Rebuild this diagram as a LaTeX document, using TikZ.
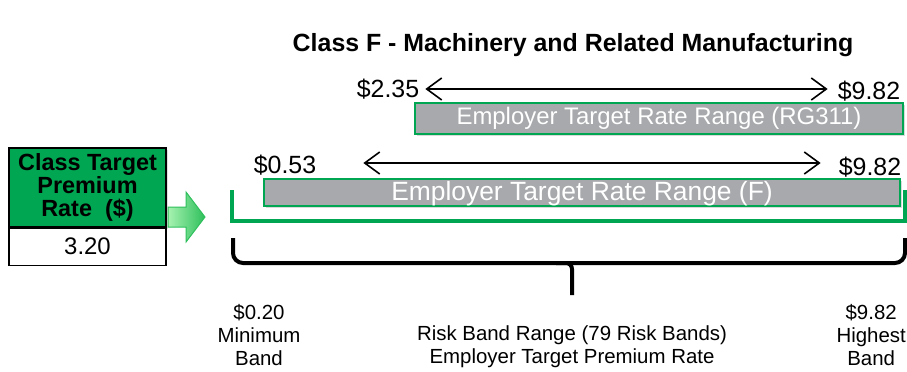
\documentclass[tikz,border=0pt]{standalone}
\usepackage{fontspec}
\setmainfont{Liberation Sans}
\usepackage{tikz}
\usetikzlibrary{positioning,calc,arrows.meta,shadows}

\definecolor{bandgreen}{HTML}{00A651}
\definecolor{bargray}{HTML}{A7A9AC}
\definecolor{arrowlight}{HTML}{A6F2B0}
\definecolor{arrowdark}{HTML}{2EBF5C}

\tikzset{
  ratebar/.style={draw=bandgreen, line width=1.4bp, fill=bargray, text=white,
    drop shadow={opacity=0.3, shadow xshift=2bp, shadow yshift=-2bp}},
  pricelbl/.style={font=\fontsize{25}{29}\selectfont, inner sep=0pt},
  bandlbl/.style={font=\fontsize{20.5}{23.5}\selectfont, align=center, inner sep=0pt},
  rangearrow/.style={{Straight Barb[length=15bp,width=22bp]}-{Straight Barb[length=15bp,width=22bp]}, line width=1.6bp}
}

\begin{document}
\begin{tikzpicture}[x=1bp,y=-1bp]
  \useasboundingbox (0,0) rectangle (907,371);

  \node[font=\fontsize{25}{29}\selectfont\bfseries] (title) at (573,45) {Class F - Machinery and Related Manufacturing};

  % class target box
  \node[draw=black, line width=1.2bp, fill=bandgreen, minimum width=157bp, minimum height=79bp,
        inner sep=0pt, align=center, font=\fontsize{23.5}{23}\selectfont\bfseries,
        drop shadow={opacity=0.25, shadow xshift=2bp, shadow yshift=-2bp}] (hdr) at (87.5,187.5)
        {Class Target\\Premium\\Rate~~(\$)};
  \node[draw=black, line width=1.2bp, fill=white, minimum width=157bp, minimum height=37bp,
        inner sep=0pt, font=\fontsize{24}{28}\selectfont, below=0pt of hdr] (rate) {3.20};

  % green block arrow
  \shade[left color=arrowlight, right color=arrowdark, draw=arrowdark, line width=1bp]
    (168,207) -- (186,207) -- (186,192) -- (205,217) -- (186,242) -- (186,227) -- (168,227) -- cycle;

  % green band bracket
  \draw[bandgreen, line width=4bp] (232,190) -- (232,221) -- (905,221) -- (905,190);

  % target rate bars
  \node[ratebar, minimum width=636bp, minimum height=27bp, inner sep=0pt] (barF) at (582,192.5) {};
  \node[text=white, font=\fontsize{26.5}{30}\selectfont] at (582,193.5) {Employer Target Rate Range (F)};
  \node[ratebar, minimum width=488bp, minimum height=31bp, inner sep=0pt,
        font=\fontsize{24}{28}\selectfont] (barRG) at (659,118.5) {Employer Target Rate Range (RG311)};

  % rate range labels and arrows
  \node[pricelbl] (loRG) at (388,89) {\$2.35};
  \node[pricelbl] (hiRG) at (869,91) {\$9.82};
  \draw[rangearrow, shorten <=6bp, shorten >=10bp] (loRG.east) -- (loRG.east -| hiRG.west);

  \node[pricelbl] (loF) at (285,165) {\$0.53};
  \node[pricelbl] (hiF) at (870,167) {\$9.82};
  \draw[rangearrow, shorten <=47bp, shorten >=18bp] ($(loF.east)+(0,-2)$) -- ($(loF.east -| hiF.west)+(0,-2)$);

  % risk band brace
  \draw[line width=4bp, rounded corners=10bp] (233,238) -- (233,263) -- (905,263) -- (905,238);
  \draw[line width=4bp, rounded corners=6bp] (556,263) -- (572,263) -- (572,295);

  \node[bandlbl] (minband) at (259,335) {\$0.20\\Minimum\\Band};
  \node[bandlbl] (riskrange) at (572,346.5) {Risk Band Range (79 Risk Bands)\\Employer Target Premium Rate};
  \node[bandlbl, anchor=east] (maxband) at (906,335) {\$9.82\\Highest\\Band};
\end{tikzpicture}
\end{document}
